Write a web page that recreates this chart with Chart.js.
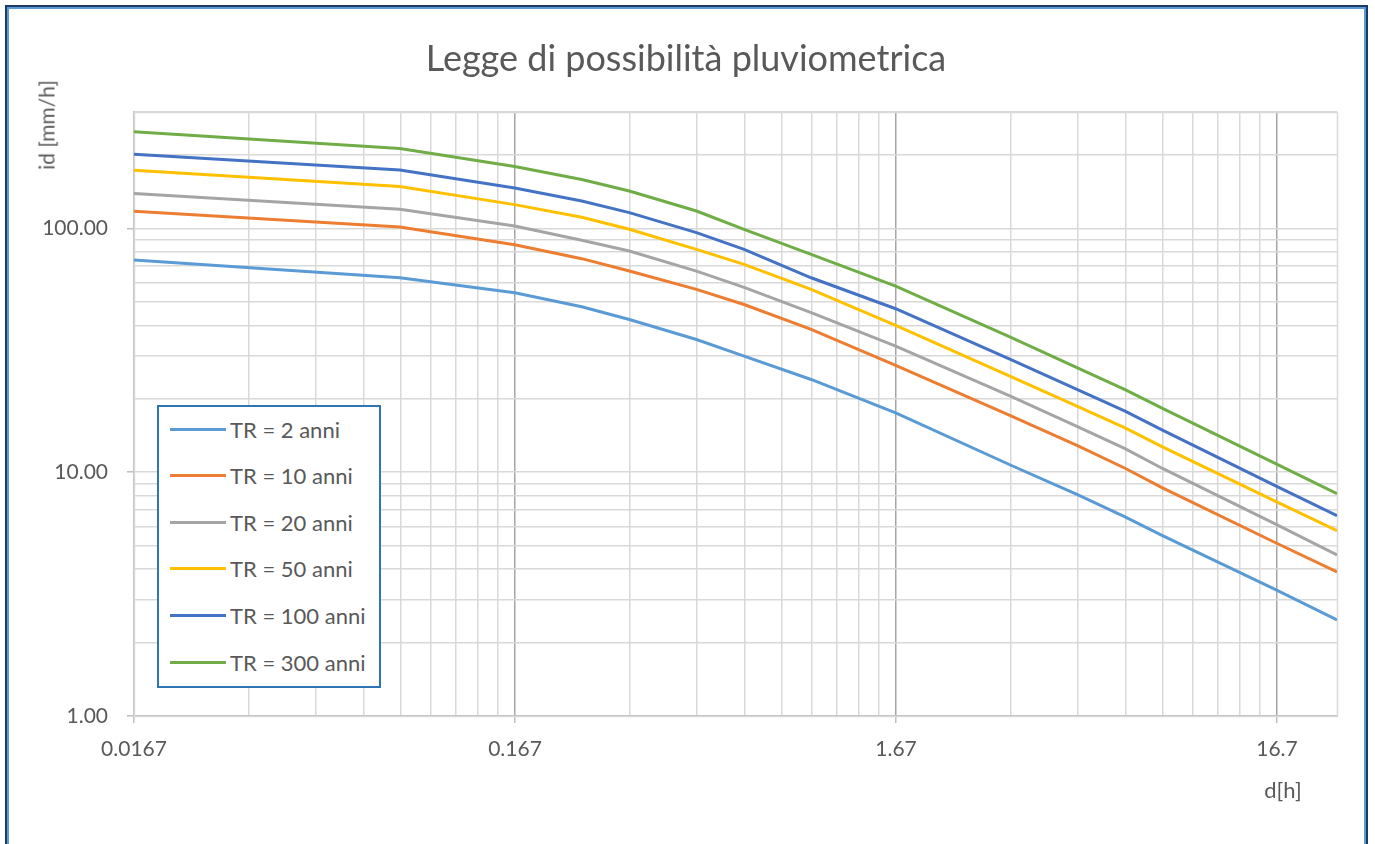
<!DOCTYPE html>
<html>
<head>
<meta charset="utf-8">
<title>Legge di possibilità pluviometrica</title>
<script src="https://cdn.jsdelivr.net/npm/chart.js@4.4.1/dist/chart.umd.min.js"></script>
<style>
    html, body { margin: 0; padding: 0; background: #fff; }
    body { width: 1375px; height: 844px; overflow: hidden; position: relative; font-family: 'Lato', 'Open Sans', sans-serif; color: #595959; }
    #chartWrap { position: absolute; left: 0; top: 0; width: 1375px; height: 844px; }
    #frame { position: absolute; left: 5px; top: 5px; width: 1363px; height: 900px; box-sizing: border-box; border: 2px solid #1f3864; box-shadow: inset 0 0 0 2px #5b9bd5; pointer-events: none; }
    #title { position: absolute; left: 686px; top: 57px; transform: translate(-50%, -50%); font-size: 36px; white-space: nowrap; }
    #yTitle { position: absolute; left: 46px; top: 125px; transform: translate(-50%, -50%) rotate(-90deg); font-size: 21px; white-space: nowrap; }
    #xTitle { position: absolute; left: 1283px; top: 789px; transform: translate(-50%, -50%); font-size: 22px; white-space: nowrap; }
    #legend { position: absolute; left: 157px; top: 405px; width: 224px; height: 283px; box-sizing: border-box; border: 2px solid #2e75b6; background: #fff; }
    .item { position: absolute; left: 11px; height: 26px; display: flex; align-items: center; font-size: 22px; white-space: nowrap; }
    .item .swatch { width: 56px; height: 3px; margin-right: 4px; }
</style>
</head>
<body>
<div id="chartWrap"><canvas id="lppChart" width="1375" height="844"></canvas></div>
<div id="title">Legge di possibilità pluviometrica</div>
<div id="yTitle">id [mm/h]</div>
<div id="xTitle">d[h]</div>
<div id="legend"></div>
<div id="frame"></div>

<script>
// ===== DATA =====
// durata d [h]
const durations = [0.0167, 0.0833, 0.1667, 0.25, 0.3333, 0.5, 0.6667, 1, 1.6667, 3.3333, 5, 6.6667, 8.3333, 16.6667, 24];

// intensità id [mm/h] per tempo di ritorno
const tr2   = [74.1, 62.7, 54.4, 47.7, 42.3, 35.0, 29.9, 24.0, 17.5, 10.7, 8.08, 6.56, 5.51, 3.28, 2.48];
const tr10  = [117.4, 101.2, 85.7, 75.1, 66.8, 56.2, 48.7, 38.5, 27.4, 17.06, 12.85, 10.38, 8.64, 5.11, 3.90];
const tr20  = [138.8, 119.7, 102.2, 89.3, 80.7, 66.8, 57.25, 45.1, 32.9, 20.5, 15.38, 12.49, 10.38, 6.09, 4.58];
const tr50  = [173.0, 148.4, 125.1, 111.0, 99.1, 82.0, 71.2, 56.2, 40.0, 24.7, 18.6, 15.2, 12.73, 7.56, 5.75];
const tr100 = [201.3, 173.5, 146.4, 129.5, 116.0, 96.0, 82.0, 62.7, 46.8, 29.0, 21.8, 17.8, 14.9, 8.74, 6.63];
const tr300 = [248.7, 212.5, 179.2, 158.5, 142.3, 117.8, 99.1, 78.2, 57.9, 35.8, 26.8, 21.82, 18.32, 10.79, 8.16];

const seriesLabels = ['TR = 2 anni', 'TR = 10 anni', 'TR = 20 anni', 'TR = 50 anni', 'TR = 100 anni', 'TR = 300 anni'];
const seriesColors = ['#5B9BD5', '#ED7D31', '#A5A5A5', '#FFC000', '#4472C4', '#70AD47'];

// tick labels
const xTickValues = [0.0167, 0.167, 1.67, 16.7];
const xTickLabels = ['0.0167', '0.167', '1.67', '16.7'];
const yTickValues = [1, 10, 100];
const yTickLabels = ['1.00', '10.00', '100.00'];

const xMin = 0.0167, xMax = 24;
const yMin = 1, yMax = 300;

// ===== CHART.JS CONFIGURATION =====
Chart.defaults.font.family = "'Lato', 'Open Sans', sans-serif";
Chart.defaults.font.size = 21;
Chart.defaults.color = '#595959';

function isMajor(value, majors) {
    return majors.some(m => Math.abs(value / m - 1) < 1e-6);
}

// major + minor grid positions (1..9 per decade)
function logGrid(majors, max) {
    const out = [];
    majors.forEach(m => {
        for (let k = 1; k <= 9; k++) {
            const v = m * k;
            if (v <= max * 1.0001) out.push({ value: v });
        }
    });
    return out;
}

const plotBorder = {
    id: 'plotBorder',
    beforeDatasetsDraw(chart) {
        const a = chart.chartArea;
        const ctx = chart.ctx;
        ctx.save();
        ctx.strokeStyle = '#d9d9d9';
        ctx.lineWidth = 1.5;
        ctx.strokeRect(a.left + 0.5, a.top + 0.5, a.right - a.left, a.bottom - a.top);
        ctx.restore();
    }
};

const datasets = [tr2, tr10, tr20, tr50, tr100, tr300].map((vals, i) => ({
    label: seriesLabels[i],
    data: durations.map((d, j) => ({ x: d, y: vals[j] })),
    borderColor: seriesColors[i],
    backgroundColor: seriesColors[i],
    borderWidth: 3,
    pointRadius: 0,
    tension: 0,
    fill: false
}));

const lppChart = new Chart(document.getElementById('lppChart'), {
    type: 'line',
    data: { datasets: datasets },
    plugins: [plotBorder],
    options: {
        responsive: false,
        animation: false,
        layout: { padding: { left: 0, top: 112, right: 38, bottom: 0 } },
        plugins: {
            legend: { display: false },
            title: { display: false },
            tooltip: { enabled: false }
        },
        scales: {
            x: {
                type: 'logarithmic',
                min: xMin,
                max: xMax,
                afterBuildTicks: s => { s.ticks = logGrid(xTickValues, xMax); },
                afterFit: s => { s.height = 128; },
                border: { display: true, color: '#bfbfbf', width: 1.5 },
                grid: {
                    color: c => isMajor(c.tick.value, xTickValues) ? '#a6a6a6' : '#d9d9d9',
                    lineWidth: 1.5,
                    tickColor: c => isMajor(c.tick.value, xTickValues) ? '#bfbfbf' : 'rgba(0,0,0,0)',
                    tickLength: 7
                },
                ticks: {
                    autoSkip: false,
                    maxRotation: 0,
                    padding: 14,
                    callback: function (value) {
                        const i = xTickValues.findIndex(m => Math.abs(value / m - 1) < 1e-6);
                        return i >= 0 ? xTickLabels[i] : '';
                    }
                }
            },
            y: {
                type: 'logarithmic',
                min: yMin,
                max: yMax,
                afterBuildTicks: s => { s.ticks = logGrid(yTickValues, yMax); },
                afterFit: s => { s.width = 134; },
                border: { display: true, color: '#bfbfbf', width: 1.5 },
                grid: {
                    color: '#d9d9d9',
                    lineWidth: 1.5,
                    tickColor: c => isMajor(c.tick.value, yTickValues) ? '#bfbfbf' : 'rgba(0,0,0,0)',
                    tickLength: 7
                },
                ticks: {
                    autoSkip: false,
                    padding: 19,
                    callback: function (value) {
                        const i = yTickValues.findIndex(m => Math.abs(value / m - 1) < 1e-6);
                        return i >= 0 ? yTickLabels[i] : '';
                    }
                }
            }
        }
    }
});

// ===== LEGEND =====
const legendEl = document.getElementById('legend');
lppChart.data.datasets.forEach((ds, i) => {
    const row = document.createElement('div');
    row.className = 'item';
    row.style.top = (9 + i * 46.6) + 'px';
    row.innerHTML = '<span class="swatch" style="background:' + ds.borderColor + '"></span><span>' + ds.label + '</span>';
    legendEl.appendChild(row);
});
</script>
</body>
</html>
